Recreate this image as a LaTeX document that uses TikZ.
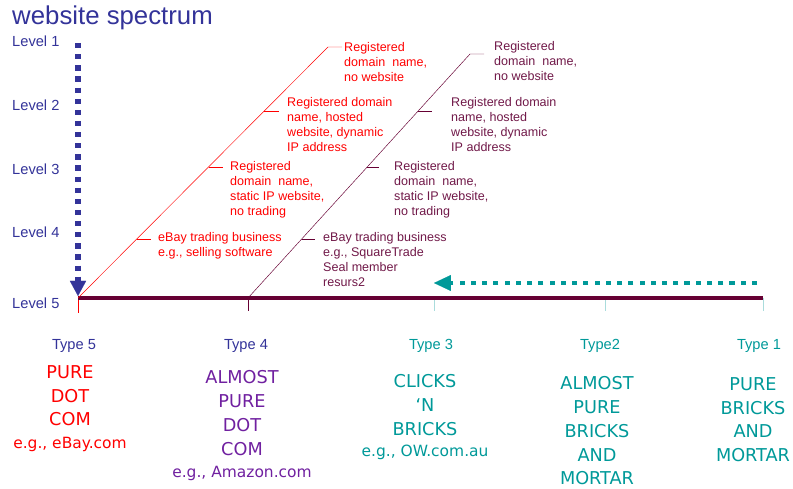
\documentclass[tikz,border=0pt]{standalone}
\usepackage{fontspec}
\setmainfont{Liberation Sans}
\newfontfamily\wideface{DejaVu Sans}
\usetikzlibrary{arrows.meta,calc}
\definecolor{specblue}{RGB}{51,51,153}
\definecolor{specred}{RGB}{255,0,0}
\definecolor{specmaroon}{RGB}{102,0,51}
\definecolor{specplum}{RGB}{112,24,72}
\definecolor{specpurple}{RGB}{112,32,160}
\definecolor{specteal}{RGB}{0,153,153}
\definecolor{speclight}{RGB}{170,220,220}

\begin{document}
\begin{tikzpicture}[x=0.03cm,y=-0.03cm,
    lvl/.style={anchor=west,inner sep=0pt,text=specblue,font=\fontsize{12.5}{15}\selectfont},
    note/.style={anchor=north west,inner sep=0pt,align=left,font=\fontsize{10.7}{12.8}\selectfont},
    typ/.style={inner sep=0pt,font=\fontsize{12.5}{15}\selectfont},
    kind/.style={anchor=north,inner sep=0pt,align=center,font=\wideface\fontsize{15.1}{20.4}\selectfont},
    eg/.style={inner sep=0pt,font=\wideface\fontsize{13.2}{15}\selectfont}]
    \useasboundingbox (0,0) rectangle (793,489);
    % title and levels
    \node [anchor=west,inner sep=0pt,text=specblue,font=\fontsize{22}{26}\selectfont] (title) at (12,18) {website spectrum};
    \node [lvl] (lvl1) at (12,41) {Level 1};
    \node [lvl] (lvl2) at (12,105) {Level 2};
    \node [lvl] (lvl3) at (12,169) {Level 3};
    \node [lvl] (lvl4) at (12,232) {Level 4};
    \node [lvl] (lvl5) at (12,303) {Level 5};
    % base line and type positions
    \coordinate (s5) at (78,298);
    \coordinate (s4) at (248,298);
    \coordinate (s3) at (434,298);
    \coordinate (s2) at (605,298);
    \coordinate (s1) at (763,298);
    \draw [specred] (s5) -- ++(0,15);
    \draw [specmaroon] (s4) -- ++(0,13);
    \draw [speclight] (s3) -- ++(0,13);
    \draw [speclight] (s2) -- ++(0,13);
    \draw [speclight] (s1) -- ++(0,13);
    \draw [specmaroon,line width=3.4pt] (s5) -- (s1);
    % dotted arrows
    \coordinate (bluetop) at (78,43);
    \coordinate (bluetip) at (78,296);
    \draw [specblue,line width=4.3pt,dash pattern=on 4.5pt off 5pt,
        -{Triangle[length=13pt,width=14pt,line width=0.1pt]}] (bluetop) -- (bluetip);
    \coordinate (tealstart) at (757,283);
    \draw [specteal,line width=3.5pt,dash pattern=on 4.3pt off 5.3pt,
        -{Triangle[length=14.5pt,width=13.7pt,line width=0.1pt]}] (tealstart) -- (s3 |- tealstart);
    % red diagonal (type 5)
    \coordinate (rtop) at (328,47);
    \draw [specred] (s5) -- (rtop) -- ++(14,0);
    \draw [specred] ($(s5)!0.745!(rtop)$) -- ++(15,0);
    \draw [specred] ($(s5)!0.522!(rtop)$) -- ++(14,0);
    \draw [specred] ($(s5)!0.235!(rtop)$) -- ++(14,0);
    \node [note,text=specred] (r1) at (344,42.5) {Registered\\domain~ name,\\no website};
    \node [note,text=specred] (r2) at (287,97.5) {Registered domain\\name, hosted\\website, dynamic\\IP address};
    \node [note,text=specred] (r3) at (230,161.5) {Registered\\domain~ name,\\static IP website,\\no trading};
    \node [note,text=specred] (r4) at (158,232.5) {eBay trading business\\e.g., selling software};
    % maroon diagonal (type 4)
    \coordinate (mtop) at (470,54);
    \draw [specmaroon] (s4) -- (mtop) -- ++(14,0);
    \draw [specmaroon] ($(s4)!0.766!(mtop)$) -- ++(14,0);
    \draw [specmaroon] ($(s4)!0.537!(mtop)$) -- ++(12,0);
    \draw [specmaroon] ($(s4)!0.242!(mtop)$) -- ++(13,0);
    \node [note,text=specplum] (m1) at (494,41.5) {Registered\\domain~ name,\\no website};
    \node [note,text=specplum] (m2) at (451,97.5) {Registered domain\\name, hosted\\website, dynamic\\IP address};
    \node [note,text=specplum] (m3) at (394,161.5) {Registered\\domain~ name,\\static IP website,\\no trading};
    \node [note,text=specplum] (m4) at (323,232.5) {eBay trading business\\e.g., SquareTrade\\Seal member\\resurs2};
    % types
    \node [typ,text=specblue] (type5) at (74,346) {Type 5};
    \node [typ,text=specblue] (type4) at (246,346) {Type 4};
    \node [typ,text=specteal] (type3) at (431,346) {Type 3};
    \node [typ,text=specteal] (type2) at (600,346) {Type2};
    \node [typ,text=specteal] (type1) at (759,346) {Type 1};
    \node [kind,text=specred] (kind5) at (70,365) {PURE\\DOT\\COM};
    \node [eg,text=specred] (eg5) at (70,444) {e.g., eBay.com};
    \node [kind,text=specpurple] (kind4) at (242,370) {ALMOST\\PURE\\DOT\\COM};
    \node [eg,text=specpurple] (eg4) at (242,473) {e.g., Amazon.com};
    \node [kind,text=specteal] (kind3) at (425,374) {CLICKS\\‘N\\BRICKS};
    \node [eg,text=specteal] (eg3) at (425,452) {e.g., OW.com.au};
    \node [kind,text=specteal] (kind2) at (597,376) {ALMOST\\PURE\\BRICKS\\AND\\MORTAR};
    \node [kind,text=specteal] (kind1) at (753,377) {PURE\\BRICKS\\AND\\MORTAR};
\end{tikzpicture}
\end{document}
